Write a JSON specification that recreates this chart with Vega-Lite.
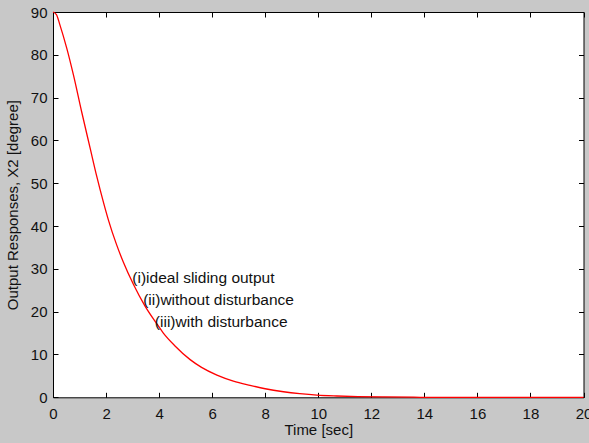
{
  "$schema": "https://vega.github.io/schema/vega-lite/v6.json",
  "width": 530.5,
  "height": 385.3,
  "autosize": {"type": "none"},
  "padding": {"left": 53, "top": 12, "right": 5.5, "bottom": 45.7},
  "background": "#c8c8c8",
  "config": {
    "view": {"fill": "white", "stroke": "black", "strokeWidth": 1},
    "font": "Liberation Sans",
    "axis": {
      "grid": false,
      "domain": false,
      "offset": -5,
      "tickColor": "black",
      "tickSize": 5,
      "tickWidth": 1,
      "labelColor": "#111111",
      "labelFont": "Liberation Sans",
      "labelFontSize": 15,
      "titleFont": "Liberation Sans",
      "titleFontSize": 15,
      "titleFontWeight": "normal",
      "titleColor": "#111111"
    }
  },
  "datasets": {
    "curve": [
      {"t": 0, "y": 90},
      {"t": 0.13, "y": 89.4},
      {"t": 0.26, "y": 87.0},
      {"t": 0.52, "y": 81.5},
      {"t": 0.77, "y": 75.3},
      {"t": 1.08, "y": 66.7},
      {"t": 1.40, "y": 58.2},
      {"t": 1.65, "y": 51.6},
      {"t": 1.90, "y": 45.6},
      {"t": 2.09, "y": 41.4},
      {"t": 2.40, "y": 35.6},
      {"t": 2.65, "y": 31.6},
      {"t": 3.03, "y": 26.4},
      {"t": 3.47, "y": 21.3},
      {"t": 3.91, "y": 17.2},
      {"t": 4.16, "y": 15.0},
      {"t": 4.60, "y": 12.0},
      {"t": 5.17, "y": 8.8},
      {"t": 5.60, "y": 7.0},
      {"t": 6.18, "y": 5.2},
      {"t": 6.80, "y": 3.8},
      {"t": 7.43, "y": 2.8},
      {"t": 8.00, "y": 2.0},
      {"t": 8.69, "y": 1.3},
      {"t": 9.30, "y": 0.85},
      {"t": 9.95, "y": 0.5},
      {"t": 10.7, "y": 0.3},
      {"t": 11.5, "y": 0.17},
      {"t": 12.5, "y": 0.08},
      {"t": 13.6, "y": 0.02},
      {"t": 14.0, "y": 0},
      {"t": 20.0, "y": 0}
    ],
    "notes": [
      {"t": 2.99, "y": 27.75, "label": "(i)ideal sliding output"},
      {"t": 3.40, "y": 22.7, "label": "(ii)without disturbance"},
      {"t": 3.84, "y": 17.6, "label": "(iii)with disturbance"}
    ]
  },
  "resolve": {"axis": {"x": "independent", "y": "independent"}},
  "layer": [
    {
      "data": {"name": "curve"},
      "mark": {"type": "line", "color": "#ff0000", "strokeWidth": 1.3, "interpolate": "monotone", "clip": false},
      "encoding": {
        "x": {
          "field": "t", "type": "quantitative",
          "scale": {"domain": [0, 20], "nice": false, "zero": false},
          "axis": {"orient": "bottom", "values": [0, 2, 4, 6, 8, 10, 12, 14, 16, 18, 20], "title": "Time [sec]", "labelPadding": 9, "labelFlush": false, "titlePadding": 1}
        },
        "y": {
          "field": "y", "type": "quantitative",
          "scale": {"domain": [0, 90], "nice": false},
          "axis": {"orient": "left", "values": [0, 10, 20, 30, 40, 50, 60, 70, 80, 90], "title": "Output Responses, X2 [degree]", "labelPadding": 6, "labelFlush": false, "titlePadding": 10}
        }
      }
    },
    {
      "data": {"name": "notes"},
      "mark": {"type": "text", "align": "left", "baseline": "middle", "font": "Liberation Sans", "fontSize": 15.5, "color": "#111111"},
      "encoding": {
        "x": {"field": "t", "type": "quantitative", "axis": {"orient": "top", "values": [0, 2, 4, 6, 8, 10, 12, 14, 16, 18, 20], "labels": false, "title": null}},
        "y": {"field": "y", "type": "quantitative", "axis": {"orient": "right", "values": [0, 10, 20, 30, 40, 50, 60, 70, 80, 90], "labels": false, "title": null}},
        "text": {"field": "label"}
      }
    }
  ]
}
